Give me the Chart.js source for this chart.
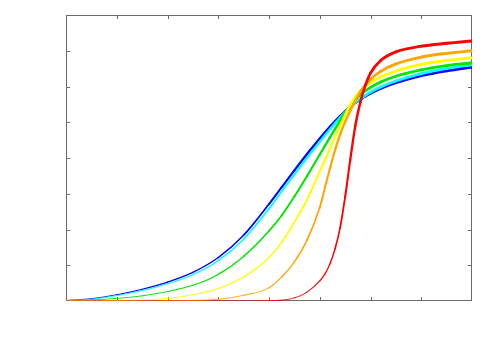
<!DOCTYPE html>
<html>
<head>
<meta charset="utf-8">
<script src="https://cdn.jsdelivr.net/npm/chart.js@4/dist/chart.umd.min.js"></script>
<style>
  html, body { margin: 0; padding: 0; background: #ffffff; }
  #wrap { width: 500px; height: 350px; }
</style>
</head>
<body>
<div id="wrap"><canvas id="c" width="500" height="350"></canvas></div>
<script>
// x positions (shared by all curves)
const xs = [0, 0.5, 1, 1.5, 2, 2.5, 3, 3.5, 4, 4.25, 4.5, 4.75, 5, 5.1, 5.2, 5.3, 5.4, 5.5, 5.6, 5.7, 5.8, 5.9, 6, 6.2, 6.5, 7, 7.5, 8];

// curve values (fraction of plot height)
const redVals    = [0, 0, 0, 0, 0, 0, 0, 0, 0.001, 0.003, 0.011, 0.031, 0.070, 0.094, 0.129, 0.182, 0.255, 0.364, 0.493, 0.612, 0.696, 0.755, 0.797, 0.841, 0.871, 0.891, 0.901, 0.909];
const orangeVals = [0, 0, 0, 0, 0.001, 0.002, 0.006, 0.020, 0.046, 0.084, 0.137, 0.213, 0.327, 0.395, 0.463, 0.527, 0.582, 0.627, 0.665, 0.700, 0.732, 0.756, 0.775, 0.803, 0.829, 0.853, 0.866, 0.875];
const yellowVals = [0, 0, 0.002, 0.004, 0.009, 0.022, 0.044, 0.084, 0.152, 0.205, 0.276, 0.355, 0.453, 0.493, 0.533, 0.573, 0.613, 0.651, 0.686, 0.714, 0.735, 0.751, 0.764, 0.783, 0.804, 0.827, 0.841, 0.850];
const greenVals  = [0.001, 0.004, 0.009, 0.018, 0.033, 0.055, 0.093, 0.156, 0.245, 0.299, 0.365, 0.437, 0.512, 0.542, 0.572, 0.601, 0.630, 0.658, 0.683, 0.704, 0.721, 0.735, 0.747, 0.766, 0.786, 0.808, 0.823, 0.833];
const cyanVals   = [0.001, 0.006, 0.019, 0.036, 0.060, 0.092, 0.141, 0.216, 0.323, 0.383, 0.443, 0.501, 0.557, 0.579, 0.600, 0.621, 0.641, 0.660, 0.678, 0.694, 0.707, 0.719, 0.730, 0.748, 0.769, 0.795, 0.813, 0.826];
const blueVals   = [0.002, 0.008, 0.022, 0.041, 0.066, 0.100, 0.152, 0.230, 0.339, 0.398, 0.457, 0.514, 0.568, 0.589, 0.609, 0.628, 0.646, 0.663, 0.679, 0.693, 0.705, 0.716, 0.726, 0.743, 0.763, 0.788, 0.805, 0.818];

// axis tick positions
const xTicks = [1, 2, 3, 4, 5, 6, 7];
const yTicks = [0.125, 0.25, 0.375, 0.5, 0.625, 0.75, 0.875];

const seriesList = [
  { vals: redVals,    color: '#ff0000' },
  { vals: orangeVals, color: '#ffa500' },
  { vals: yellowVals, color: '#ffff00' },
  { vals: greenVals,  color: '#00e600' },
  { vals: cyanVals,   color: '#00ffff' },
  { vals: blueVals,   color: '#0000ff' }
];

function widthFor(v) {
  return 0.8 + 2.3 * Math.pow(Math.max(v, 0), 0.7);
}

const datasets = seriesList.map(s => ({
  data: xs.map((x, i) => ({ x: x, y: s.vals[i] })),
  borderColor: s.color,
  borderWidth: 2,
  borderCapStyle: 'round',
  borderJoinStyle: 'round',
  pointRadius: 0,
  fill: false,
  cubicInterpolationMode: 'monotone',
  segment: {
    borderWidth: ctx => widthFor((ctx.p0.parsed.y + ctx.p1.parsed.y) / 2)
  }
}));

const framePlugin = {
  id: 'frame',
  beforeDatasetsDraw(chart) {
    const { ctx, chartArea: a, scales } = chart;
    ctx.save();
    ctx.strokeStyle = '#6a6a6a';
    ctx.lineWidth = 1;
    ctx.strokeRect(a.left + 0.5, a.top + 0.5, a.right - a.left - 1, a.bottom - a.top - 1);
    ctx.beginPath();
    const tl = 4;
    xTicks.forEach(t => {
      const px = Math.round(scales.x.getPixelForValue(t)) + 0.5;
      ctx.moveTo(px, a.bottom);
      ctx.lineTo(px, a.bottom - tl);
      ctx.moveTo(px, a.top);
      ctx.lineTo(px, a.top + tl);
    });
    yTicks.forEach(t => {
      const py = Math.round(scales.y.getPixelForValue(t)) + 0.5;
      ctx.moveTo(a.left, py);
      ctx.lineTo(a.left + tl, py);
      ctx.moveTo(a.right, py);
      ctx.lineTo(a.right - tl, py);
    });
    ctx.stroke();
    ctx.restore();
  }
};

new Chart(document.getElementById('c'), {
  type: 'line',
  data: { datasets: datasets },
  options: {
    responsive: false,
    animation: false,
    layout: { padding: { left: 66, top: 15, right: 28, bottom: 49 } },
    plugins: { legend: { display: false }, tooltip: { enabled: false } },
    scales: {
      x: { type: 'linear', min: 0, max: 8, display: false },
      y: { type: 'linear', min: 0, max: 1, display: false }
    }
  },
  plugins: [framePlugin]
});
</script>
</body>
</html>
